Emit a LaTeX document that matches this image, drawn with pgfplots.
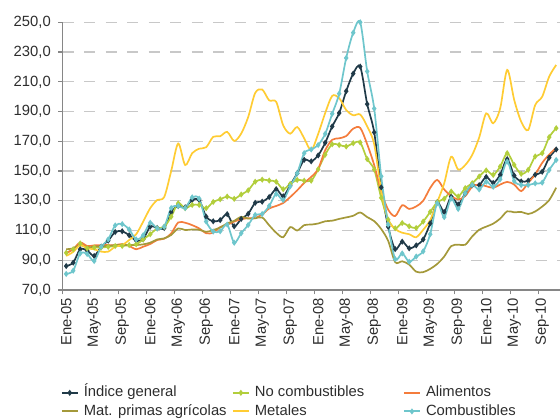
\documentclass[border=0pt]{standalone}
\usepackage{fontspec}
\setmainfont{Liberation Sans}
\usepackage{pgfplots}
\pgfplotsset{compat=1.18}
\usepackage{pgfplotstable}

\definecolor{genc}{RGB}{32,58,72}
\definecolor{nocc}{RGB}{178,206,60}
\definecolor{alic}{RGB}{244,124,60}
\definecolor{agrc}{RGB}{164,153,58}
\definecolor{metc}{RGB}{255,204,51}
\definecolor{comc}{RGB}{110,198,204}
\definecolor{axisgray}{RGB}{134,134,134}
\definecolor{gridgray}{RGB}{200,200,200}
\definecolor{labelcol}{RGB}{45,45,45}

\newcommand{\cf}{\fontsize{14.8}{17.5}\selectfont}
\newcommand{\lgent}[1]{\makebox[153pt][l]{\hspace{5pt}#1}}

\pgfplotstableread{
m gen nocomb alim agri met comb
0 86.1 95.0 94.7 97.4 92.9 80.8
1 88.4 97.4 97.4 98.0 95.6 83.0
2 97.4 101.3 101.9 100.2 100.2 94.6
3 96.4 98.0 99.6 98.7 98.0 94.2
4 92.9 98.6 100.0 99.1 97.4 89.5
5 99.1 98.6 100.2 99.6 95.8 99.1
6 103.2 99.0 100.2 99.6 95.8 104.0
7 109.0 99.6 100.2 100.2 99.1 113.4
8 109.5 99.6 100.9 100.2 100.2 114.3
9 106.8 100.2 99.6 100.2 103.6 110.7
10 103.2 100.7 97.4 100.2 107.5 104.0
11 104.1 104.0 99.1 100.7 116.0 106.8
12 112.6 107.5 100.9 101.8 125.0 115.2
13 111.7 111.4 103.6 104.0 130.5 111.4
14 111.7 112.5 104.5 104.7 132.5 112.6
15 122.4 119.3 108.0 107.0 150.0 125.1
16 126.5 128.3 115.4 111.4 168.5 126.5
17 125.6 125.0 115.2 110.3 154.0 125.1
18 130.5 127.2 113.6 110.7 162.0 132.3
19 130.5 127.2 111.4 110.5 165.0 131.4
20 119.3 125.0 108.2 109.1 166.0 116.0
21 116.2 129.2 108.5 110.3 173.0 109.3
22 117.0 131.0 112.3 112.0 173.4 109.5
23 121.0 132.8 113.8 114.8 176.3 114.0
24 112.8 131.3 116.0 116.5 170.2 101.8
25 117.8 134.2 117.6 119.2 175.2 108.2
26 121.2 137.0 118.3 118.0 186.3 113.7
27 128.6 142.8 118.5 118.2 202.5 120.5
28 129.4 144.2 120.8 118.8 204.8 121.1
29 132.5 143.6 124.8 113.5 197.5 126.5
30 137.8 142.8 126.5 108.5 196.5 134.6
31 133.0 137.8 128.5 105.5 180.7 130.5
32 140.5 141.3 132.5 112.3 175.1 139.7
33 148.5 144.0 137.0 110.0 179.6 148.5
34 157.5 143.5 142.0 113.6 172.0 162.0
35 156.5 143.5 146.0 114.0 164.0 164.5
36 160.5 151.2 151.5 114.7 175.0 167.5
37 169.0 161.0 164.0 116.2 189.0 175.0
38 180.0 168.0 171.0 116.6 200.5 188.5
39 189.0 167.5 172.0 117.8 199.0 202.0
40 203.7 166.5 173.5 118.8 191.0 226.0
41 215.5 168.7 178.5 119.9 187.5 243.0
42 220.2 169.2 179.0 122.1 188.0 250.0
43 195.0 158.0 168.0 119.0 180.0 217.0
44 176.0 151.0 154.0 116.3 168.0 192.0
45 139.0 132.0 136.3 111.0 137.0 146.5
46 112.5 117.3 124.0 103.0 117.3 114.0
47 97.5 111.5 119.7 88.7 111.0 90.8
48 102.5 115.0 127.0 89.3 108.5 94.6
49 98.0 112.8 124.5 87.1 107.5 89.0
50 100.0 111.7 126.2 82.3 105.5 92.5
51 104.0 116.0 130.0 82.0 110.5 96.0
52 114.8 122.5 138.6 84.2 117.0 107.5
53 129.0 129.0 144.0 87.5 129.0 128.3
54 122.5 131.3 137.6 92.5 141.7 119.0
55 132.8 136.2 133.1 99.5 159.6 131.5
56 127.5 132.9 130.9 100.5 151.0 124.5
57 135.0 138.5 133.1 100.4 154.0 135.0
58 140.5 141.8 139.4 106.0 160.8 140.6
59 140.5 146.3 140.9 110.5 172.6 137.6
60 146.0 150.4 139.8 112.6 188.8 142.8
61 142.0 147.4 138.7 114.6 182.1 139.4
62 147.5 153.0 140.9 118.0 192.2 144.4
63 158.0 162.0 142.7 122.9 218.0 156.3
64 147.0 154.1 140.9 122.2 197.8 143.3
65 143.0 148.1 136.5 122.5 183.2 140.6
66 143.5 150.8 142.1 121.1 177.6 140.6
67 147.5 159.8 147.7 122.8 194.4 141.7
68 149.5 162.0 155.5 126.1 200.0 142.2
69 159.0 172.8 161.1 130.4 213.5 150.7
70 164.5 178.8 165.6 138.8 221.3 157.4
}\datatable

\begin{document}
\begin{tikzpicture}
\useasboundingbox (0pt,0pt) rectangle (560pt,419pt);
\begin{axis}[
  at={(62.7pt,129pt)}, anchor=south west,
  scale only axis, width=497pt, height=267.7pt,
  xmin=-0.5, xmax=70.5, ymin=70, ymax=250,
  clip=false,
  axis x line*=bottom, axis y line*=left,
  axis line style={draw=axisgray, line width=1.2pt, -},
  tick align=outside,
  major tick length=4.4pt, minor tick length=4.4pt,
  ytick={70,90,...,250},
  ytick style={draw=axisgray, line width=1.2pt},
  xtick={0,4,...,68},
  xticklabels={Ene-05,May-05,Sep-05,Ene-06,May-06,Sep-06,Ene-07,May-07,Sep-07,Ene-08,May-08,Sep-08,Ene-09,May-09,Sep-09,Ene-10,May-10,Sep-10},
  minor xtick={-0.5,3.5,...,67.5},
  major x tick style={draw=none},
  minor x tick style={draw=axisgray, line width=1.2pt},
  ymajorgrids,
  major grid style={draw=gridgray, line width=1.1pt, dash pattern=on 11pt off 10.5pt},
  yticklabel style={font=\cf, text=labelcol, xshift=-4pt,
    /pgf/number format/.cd, fixed, fixed zerofill, precision=1, use comma, assume math mode=true},
  xticklabel style={font=\cf, text=labelcol, rotate=90, anchor=east},
  legend style={at={(-0.004,-0.358)}, anchor=north west, draw=none, fill=none,
    font=\cf, text=labelcol, inner sep=0pt, outer sep=0pt,
    nodes={inner sep=0pt, text height=11pt, text depth=3pt},
    row sep=4.6pt},
  legend columns=3,
  legend cell align=left,
  legend image code/.code={\draw[#1, mark=none, line width=2.1pt] (0pt,0pt) -- (16pt,0pt); \draw[#1, only marks] plot coordinates {(8pt,0pt)};},
  every axis plot/.append style={smooth, tension=0.5, line width=1.7pt},
]
\addplot[color=genc, mark=diamond*, mark size=1.7pt] table[x=m,y=gen] {\datatable};
\addlegendentry{\lgent{Índice general}}
\addplot[color=nocc, mark=diamond*, mark size=1.7pt] table[x=m,y=nocomb] {\datatable};
\addlegendentry{\lgent{No combustibles}}
\addplot[color=alic, no marks] table[x=m,y=alim] {\datatable};
\addlegendentry{\lgent{Alimentos}}
\addplot[color=agrc, no marks] table[x=m,y=agri] {\datatable};
\addlegendentry{\lgent{Mat. primas agrícolas}}
\addplot[color=metc, no marks] table[x=m,y=met] {\datatable};
\addlegendentry{\lgent{Metales}}
\addplot[color=comc, mark=diamond*, mark size=1.7pt] table[x=m,y=comb] {\datatable};
\addlegendentry{\lgent{Combustibles}}
\end{axis}
\end{tikzpicture}
\end{document}
